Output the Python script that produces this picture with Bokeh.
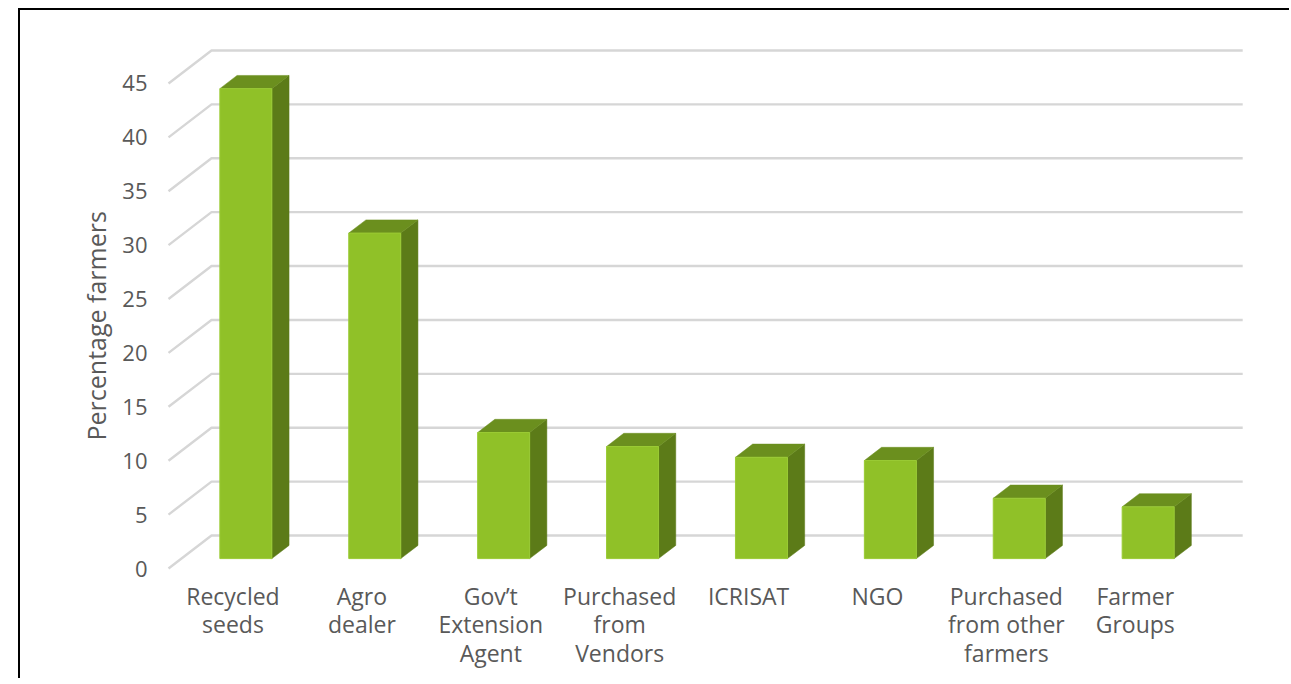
from bokeh.plotting import figure
from bokeh.models import FixedTicker, Range1d, Title
from bokeh.embed import file_html
from bokeh.resources import INLINE

# ---- data ----
categories = ["Recycled\nseeds", "Agro\ndealer", "Gov\u2019t\nExtension\nAgent",
              "Purchased\nfrom\nVendors", "ICRISAT", "NGO",
              "Purchased\nfrom other\nfarmers", "Farmer\nGroups"]
values = [43.6, 30.2, 11.7, 10.4, 9.4, 9.1, 5.6, 4.8]
y_ticks = [0, 5, 10, 15, 20, 25, 30, 35, 40, 45]
y_label = "Percentage farmers"

# ---- pseudo-3D geometry (style constants, data units) ----
DX, DY = 0.3336, 3.06      # depth vector of the floor
BAR_W = 0.4034
F0, F1 = 0.3, 0.7          # bar front/back depth fractions
N = len(categories)

TEXT = "#595959"
GRID = "#d6d6d6"
FRONT = "#90c128"
TOP = "#6b8f1e"
SIDE = "#5c7b18"

p = figure(width=1271, height=670,
           x_range=Range1d(-0.0621, 8.394), y_range=Range1d(-0.371, 48.52),
           output_backend="svg", toolbar_location=None,
           min_border_left=140, min_border_right=41,
           min_border_top=35, min_border_bottom=108)
p.outline_line_color = None
p.grid.visible = False
p.background_fill_color = "white"
p.border_fill_color = "white"
p.styles = {"margin-left": "18px", "margin-top": "8px", "vertical-align": "top",
            "border-left": "2px solid black", "border-top": "2px solid black"}

# gridlines: side-wall diagonal + back wall horizontal
gx, gy = [], []
for v in y_ticks:
    gx.append([0, DX, N + DX])
    gy.append([v, v + DY, v + DY])
p.multi_line(xs=gx, ys=gy, line_color=GRID, line_width=2.4)

# bars
lefts, rights, bottoms, tops = [], [], [], []
top_xs, top_ys, side_xs, side_ys = [], [], [], []
for i, v in enumerate(values):
    cx = i + 0.5 + F0 * DX
    l, r = cx - BAR_W / 2, cx + BAR_W / 2
    b = F0 * DY
    t = b + v
    ddx, ddy = (F1 - F0) * DX, (F1 - F0) * DY
    lefts.append(l); rights.append(r); bottoms.append(b); tops.append(t)
    top_xs.append([l, r, r + ddx, l + ddx])
    top_ys.append([t, t, t + ddy, t + ddy])
    side_xs.append([r, r + ddx, r + ddx, r])
    side_ys.append([b, b + ddy, t + ddy, t])

p.patches(xs=side_xs, ys=side_ys, fill_color=SIDE, line_color=SIDE, line_width=0.5)
p.patches(xs=top_xs, ys=top_ys, fill_color=TOP, line_color=TOP, line_width=0.5)
p.quad(left=lefts, right=rights, bottom=bottoms, top=tops,
       fill_color=FRONT, line_color="#9acb34", line_width=1)

# axes
ya = p.yaxis[0]
ya.ticker = FixedTicker(ticks=y_ticks)
ya.axis_line_color = None
ya.major_tick_line_color = None
ya.minor_tick_line_color = None
ya.major_label_standoff = 7
ya.major_label_text_font = "Open Sans"
ya.major_label_text_font_size = "22px"
ya.major_label_text_color = TEXT

xa = p.xaxis[0]
xa.ticker = FixedTicker(ticks=[i + 0.5 for i in range(N)])
xa.major_label_overrides = {i + 0.5: c for i, c in enumerate(categories)}
xa.axis_line_color = None
xa.major_tick_line_color = None
xa.minor_tick_line_color = None
xa.major_label_standoff = 1
xa.major_label_text_font = "Open Sans"
xa.major_label_text_font_size = "23px"
xa.major_label_text_color = TEXT
xa.major_label_text_line_height = 0.9

p.add_layout(Title(text=y_label, align="left", offset=132,
                   text_font="Open Sans", text_font_size="25px",
                   text_font_style="normal", text_color=TEXT, standoff=14), "left")

open("out.html", "w").write(file_html(p, INLINE))
